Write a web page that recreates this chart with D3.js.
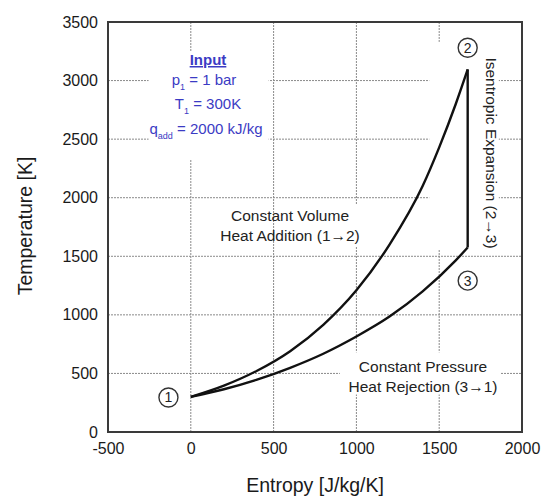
<!DOCTYPE html>
<html>
<head>
<meta charset="utf-8">
<script src="https://cdn.jsdelivr.net/npm/d3@7"></script>
<style>
  body { margin: 0; background: #fff; }
  svg { font-family: Arial, "Liberation Sans", sans-serif; }
  .grid line { stroke: #8a8a8a; stroke-dasharray: 2,1; stroke-width: 1; }
  .tick text { font-size: 16px; fill: #1a1a1a; }
</style>
</head>
<body>
<svg></svg>
<script>
// constant volume heat addition 1->2 (entropy, temperature)
var heatAddS = [0, 200, 400, 600, 800, 1000, 1200, 1400, 1500, 1600, 1672]
var heatAddT = [300, 396, 523, 690, 915, 1210, 1600, 2100, 2430, 2800, 3095]
// constant pressure heat rejection 3->1
var heatRejS = [1672, 1600, 1400, 1200, 1000, 800, 600, 400, 200, 0]
var heatRejT = [1575, 1465, 1200, 985, 815, 668, 548, 447, 365, 300]
// isentropic expansion 2->3
var expS = [1672, 1672]
var expT = [3095, 1575]

var xTicks = [-500, 0, 500, 1000, 1500, 2000]
var yTicks = [0, 500, 1000, 1500, 2000, 2500, 3000, 3500]

// state point markers
var stateLabels = ["1", "2", "3"]
var stateS = [-135, 1672, 1672]
var stateT = [295, 3280, 1292]

var screen = { width: 549, height: 497 }
var margins = { left: 108, right: 27, top: 22, bottom: 65 }
var graph = {
    width: screen.width - margins.left - margins.right,
    height: screen.height - margins.top - margins.bottom
}

var svg = d3.select("svg")
    .attr("width", screen.width)
    .attr("height", screen.height)

var xScale = d3.scaleLinear().domain([-500, 2000]).range([0, graph.width])
var yScale = d3.scaleLinear().domain([0, 3500]).range([graph.height, 0])

var target = svg.append("g")
    .attr("transform", "translate(" + margins.left + "," + margins.top + ")")

// grid
var grid = target.append("g").classed("grid", true)
grid.selectAll(".gx").data(xTicks.slice(1, -1)).enter()
    .append("line")
    .attr("x1", function (d) { return xScale(d) })
    .attr("x2", function (d) { return xScale(d) })
    .attr("y1", 0).attr("y2", graph.height)
grid.selectAll(".gy").data(yTicks.slice(1, -1)).enter()
    .append("line")
    .attr("y1", function (d) { return yScale(d) })
    .attr("y2", function (d) { return yScale(d) })
    .attr("x1", 0).attr("x2", graph.width)

// axes
var plain = function (d) { return String(d) }
var xAxis = d3.axisBottom(xScale).tickValues(xTicks).tickFormat(plain).tickSize(0).tickPadding(11)
var yAxis = d3.axisLeft(yScale).tickValues(yTicks).tickFormat(plain).tickSize(0).tickPadding(10)
target.append("g")
    .attr("transform", "translate(0," + graph.height + ")")
    .call(xAxis)
    .call(function (g) { g.select(".domain").remove() })
target.append("g")
    .call(yAxis)
    .call(function (g) { g.select(".domain").remove() })

// text backgrounds that break the grid, as in the original
var boxes = [[-255, 3250, 470, 2330], [560, 1940, 1280, 1580], [1440, 3330, 1860, 1560], [900, 680, 1870, 320]]
target.selectAll(".bg").data(boxes).enter()
    .append("rect")
    .attr("x", function (d) { return xScale(d[0]) })
    .attr("y", function (d) { return yScale(d[1]) })
    .attr("width", function (d) { return xScale(d[2]) - xScale(d[0]) })
    .attr("height", function (d) { return yScale(d[3]) - yScale(d[1]) })
    .attr("fill", "white")

// frame
target.append("rect")
    .attr("width", graph.width)
    .attr("height", graph.height)
    .attr("fill", "none")
    .attr("stroke", "#3a3a3a")
    .attr("stroke-width", 2)

// process lines
var line = d3.line()
    .x(function (d) { return xScale(d[0]) })
    .y(function (d) { return yScale(d[1]) })
    .curve(d3.curveMonotoneX)
var straight = d3.line()
    .x(function (d) { return xScale(d[0]) })
    .y(function (d) { return yScale(d[1]) })

var paths = [d3.zip(heatAddS, heatAddT), d3.zip(heatRejS, heatRejT).reverse(), d3.zip(expS, expT)]
target.selectAll(".process").data(paths).enter()
    .append("path")
    .classed("process", true)
    .attr("d", function (d, i) { return i == 2 ? straight(d) : line(d) })
    .attr("fill", "none")
    .attr("stroke", "#111")
    .attr("stroke-width", 2.4)

// state markers
var marks = target.selectAll(".state").data(stateLabels).enter()
    .append("g")
    .attr("transform", function (d, i) {
        return "translate(" + xScale(stateS[i]) + "," + yScale(stateT[i]) + ")"
    })
marks.append("circle")
    .attr("r", 9.5)
    .attr("fill", "white")
    .attr("stroke", "#333")
    .attr("stroke-width", 1.4)
marks.append("text")
    .text(function (d) { return d })
    .attr("text-anchor", "middle")
    .attr("dy", "0.36em")
    .attr("font-size", 14)
    .attr("fill", "#222")

// annotations
var labels = svg.append("g").attr("fill", "#222")
function addText(g, str, x, y, size) {
    return g.append("text").text(str)
        .attr("x", x).attr("y", y)
        .attr("text-anchor", "middle")
        .attr("font-size", size)
}
addText(labels, "Constant Volume", 290, 221, 15.5)
addText(labels, "Heat Addition (1\u21922)", 290, 241, 15.5)
addText(labels, "Constant Pressure", 423, 372, 15.5)
addText(labels, "Heat Rejection (3\u21921)", 423, 392, 15.5)

labels.append("text")
    .text("Isentropic Expansion (2\u21923)")
    .attr("text-anchor", "middle")
    .attr("font-size", 15.5)
    .attr("transform", "translate(486,153) rotate(90)")

// input box
var input = svg.append("g").attr("fill", "#3b3bc4")
addText(input, "Input", 208, 65, 15)
    .attr("font-weight", "bold")
    .attr("text-decoration", "underline")
var p1 = addText(input, "p", 204, 85, 15)
p1.append("tspan").text("1").attr("font-size", 9).attr("dy", 5)
p1.append("tspan").text(" = 1 bar").attr("dy", -5)
var t1 = addText(input, "T", 208, 109, 15)
t1.append("tspan").text("1").attr("font-size", 9).attr("dy", 5)
t1.append("tspan").text(" = 300K").attr("dy", -5)
var q = addText(input, "q", 206, 134, 15)
q.append("tspan").text("add").attr("font-size", 9).attr("dy", 5)
q.append("tspan").text(" = 2000 kJ/kg").attr("dy", -5)

// axis titles
svg.append("text")
    .text("Entropy [J/kg/K]")
    .attr("x", 315).attr("y", 492)
    .attr("text-anchor", "middle")
    .attr("font-size", 19.5)
    .attr("fill", "#1a1a1a")
svg.append("text")
    .text("Temperature [K]")
    .attr("text-anchor", "middle")
    .attr("font-size", 19.5)
    .attr("fill", "#1a1a1a")
    .attr("transform", "translate(32,226) rotate(-90)")
</script>
</body>
</html>
